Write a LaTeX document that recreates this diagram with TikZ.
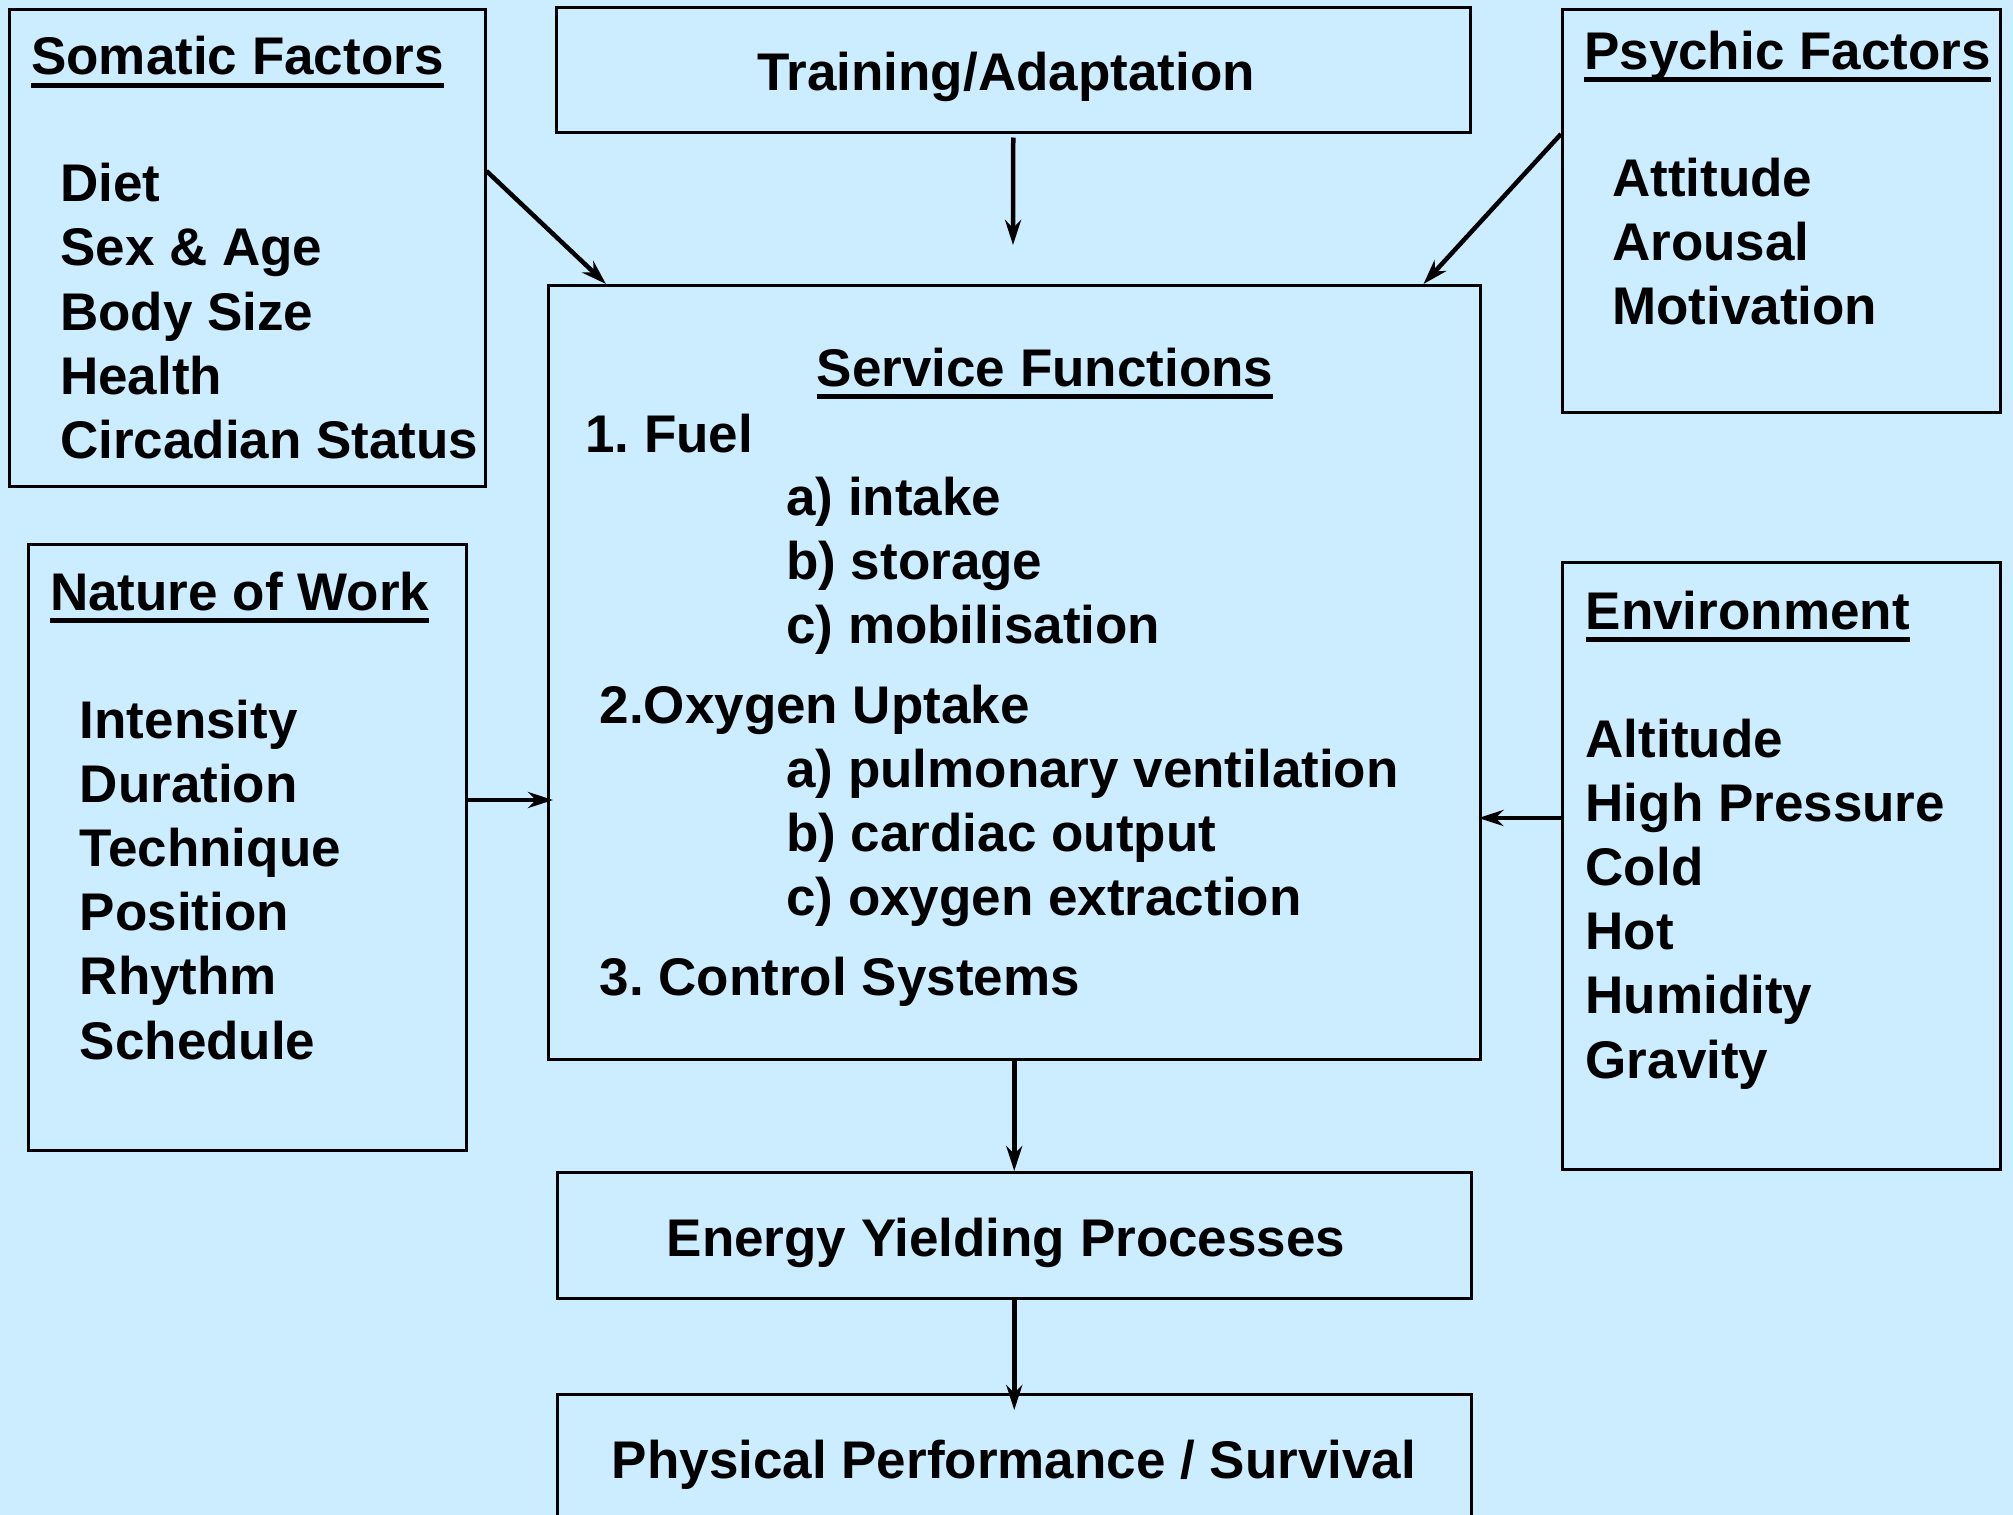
\documentclass[tikz,border=0pt]{standalone}
\usepackage{fontspec}
\setmainfont{Liberation Sans}
\usetikzlibrary{arrows.meta}
\definecolor{bg}{RGB}{204,236,255}
\frenchspacing
\begin{document}
\begin{tikzpicture}[x=1pt,y=-1pt,
  box/.style={draw=black, line width=2.5pt, fill=bg, rectangle, inner sep=0pt, anchor=north west},
  txt/.style={inner sep=0pt, anchor=base west, font=\bfseries\fontsize{53}{64}\selectfont},
  ctxt/.style={txt, anchor=base},
  arr/.style={line width=4.5pt, -{Stealth[length=25pt,width=16pt,inset=8pt]}},
  uline/.style={line width=5pt}]
\clip (0,0) rectangle (2013,1515);
\fill[bg] (0,0) rectangle (2013,1515);
% boxes
\node[box, minimum width=476pt, minimum height=477pt] (som) at (8,8) {};
\node[box, minimum width=914pt, minimum height=125pt] (train) at (555,6) {};
\node[box, minimum width=438pt, minimum height=403pt] (psy) at (1561,8) {};
\node[box, minimum width=932pt, minimum height=774pt] (serv) at (547,284) {};
\node[box, minimum width=438pt, minimum height=606pt] (nat) at (27,543) {};
\node[box, minimum width=438pt, minimum height=607pt] (env) at (1561,561) {};
\node[box, minimum width=914pt, minimum height=126pt] (energy) at (556,1171) {};
\node[box, minimum width=914pt, minimum height=160pt] (phys) at (556,1393) {};
% somatic
\node[txt] (somt) at (31,74.5) {Somatic Factors};
\draw[uline] ([yshift=-10.5pt]somt.base west) -- ([yshift=-10.5pt]somt.base east);
\foreach \t [count=\i from 0] in {Diet, Sex \& Age, Body Size, Health, Circadian Status}
  \node[txt] (som\i) at (60,201.6+64.2*\i) {\t};
% training
\node[ctxt] (traint) at (1006,90) {Training/Adaptation};
% psychic
\node[txt] (psyt) at (1584,69) {Psychic Factors};
\draw[uline] ([yshift=-10.5pt]psyt.base west) -- ([yshift=-10.5pt]psyt.base east);
\foreach \t [count=\i from 0] in {Attitude, Arousal, Motivation}
  \node[txt] (psy\i) at (1612,196+64.2*\i) {\t};
% service
\node[ctxt] (servt) at (1045,386) {Service Functions};
\draw[uline] ([yshift=-10.5pt]servt.base west) -- ([yshift=-10.5pt]servt.base east);
\node[txt] (fuel) at (585,452) {1. Fuel};
\node[txt] (fa) at (786,515) {a) intake};
\node[txt] (fb) at (786,579) {b) storage};
\node[txt] (fc) at (786,643) {c) mobilisation};
\node[txt] (oxy) at (599.5,723) {2.Oxygen Uptake};
\node[txt] (oa) at (786,787) {a) pulmonary ventilation};
\node[txt] (ob) at (786,851) {b) cardiac output};
\node[txt] (oc) at (786,915) {c) oxygen extraction};
\node[txt] (ctrl) at (599.5,995) {3. Control Systems};
% nature of work
\node[txt] (natt) at (50,610) {Nature of Work};
\draw[uline] ([yshift=-10.5pt]natt.base west) -- ([yshift=-10.5pt]natt.base east);
\foreach \t [count=\i from 0] in {Intensity, Duration, Technique, Position, Rhythm, Schedule}
  \node[txt] (nat\i) at (79.6,738+64.2*\i) {\t};
% environment
\node[txt] (envt) at (1585.5,629) {Environment};
\draw[uline] ([yshift=-10.5pt]envt.base west) -- ([yshift=-10.5pt]envt.base east);
\foreach \t [count=\i from 0] in {Altitude, High Pressure, Cold, Hot, Humidity, Gravity}
  \node[txt] (env\i) at (1585.5,757+64.2*\i) {\t};
% bottom
\node[ctxt] (energyt) at (1006,1256) {Energy Yielding Processes};
\node[ctxt] (physt) at (1014,1478) {Physical Performance / Survival};
% arrows
\coordinate (tEnd) at (1013,245);
\coordinate (nA) at ([yshift=-257pt]nat.north east);
\coordinate (eA) at ([yshift=-257pt]env.north west);
\draw[arr] ([yshift=-163pt]som.north east) -- ([xshift=59pt]serv.north west);
\draw[arr] ([yshift=-4pt]train.south) -- (tEnd);
\draw[arr] ([yshift=-126pt]psy.north west) -- ([xshift=-58pt]serv.north east);
\draw[arr, shorten >=-6pt] (nA) -- (nA -| serv.west);
\draw[arr, shorten >=-3pt] (eA) -- (eA -| serv.east);
\draw[arr] (serv.south) -- (energy.north);
\draw[arr, shorten >=-17pt] (energy.south) -- (phys.north);
\end{tikzpicture}
\end{document}
